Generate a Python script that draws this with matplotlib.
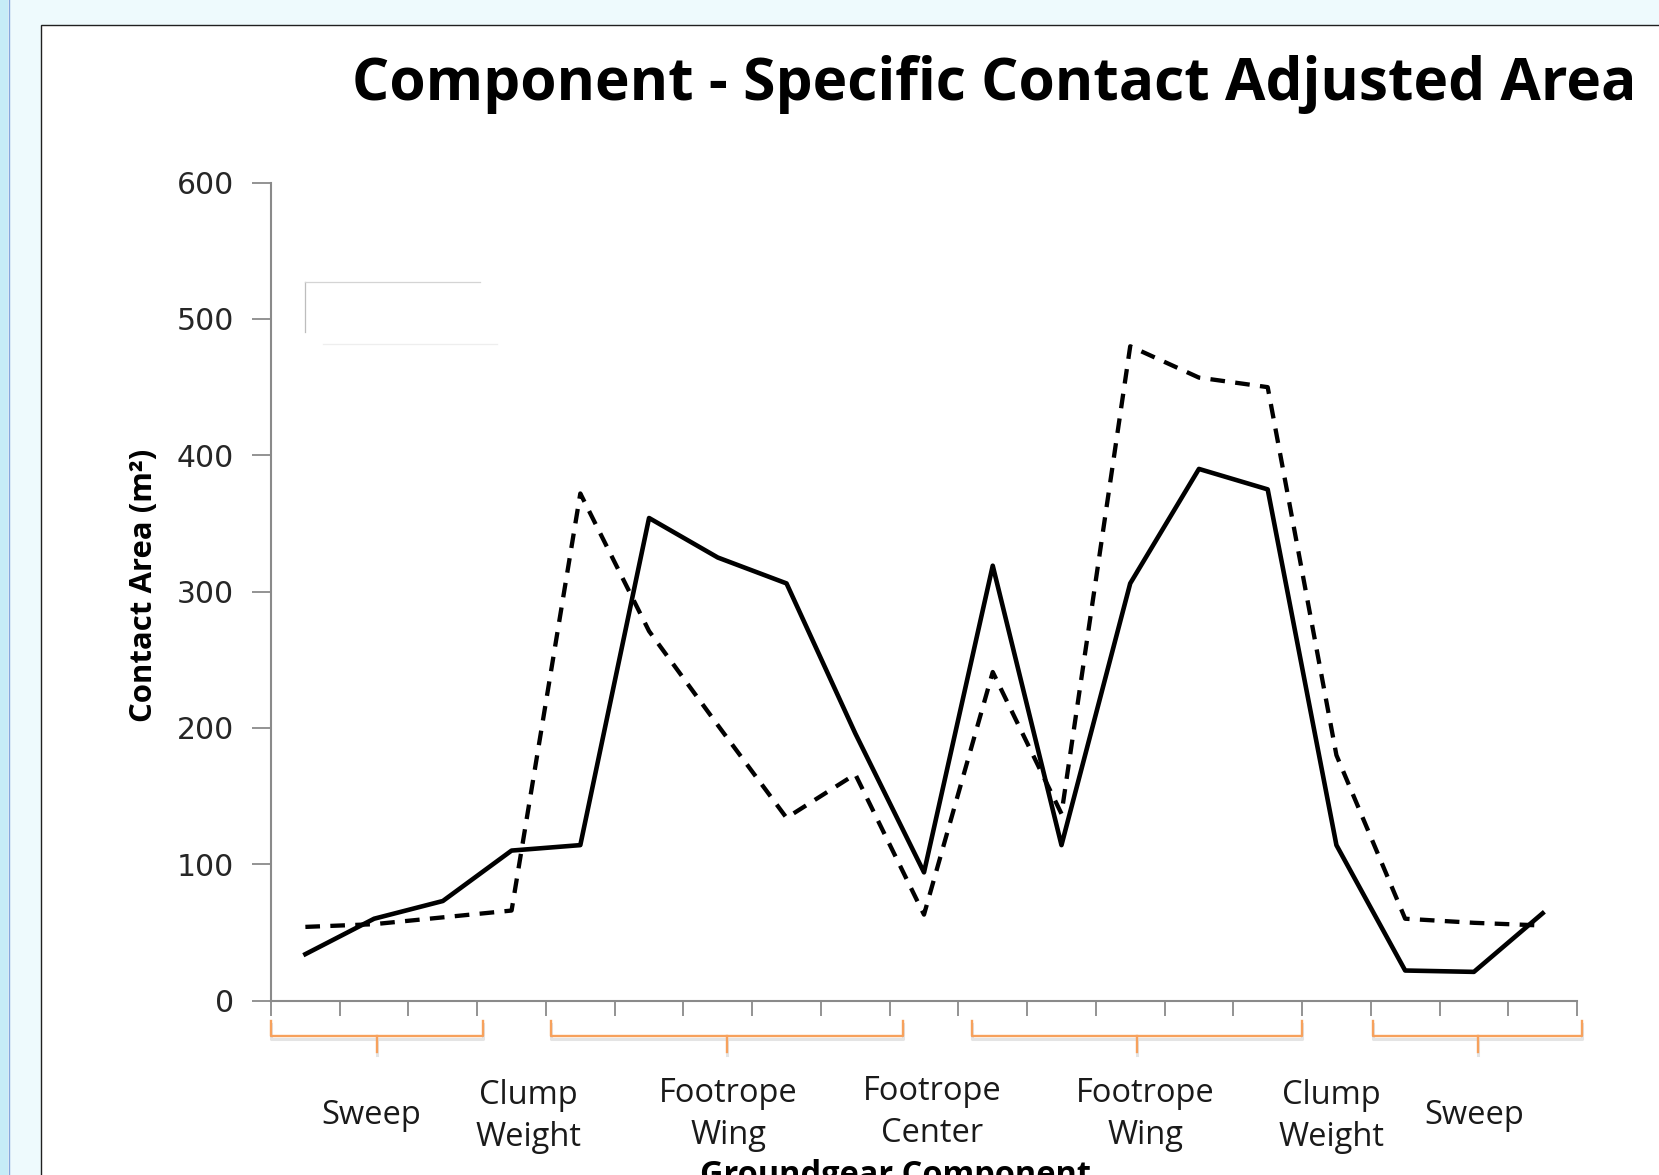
import numpy as np
import matplotlib
matplotlib.use('Agg')
import matplotlib.pyplot as plt
from matplotlib.lines import Line2D
from matplotlib.patches import Rectangle
import matplotlib.transforms as mtransforms

# ---------------- data ----------------
solid_series = [34, 60, 73, 110, 114, 354, 325, 306, 196, 94, 319, 114, 306, 390, 375, 114, 22, 21, 64]
dashed_series = [54, 56, 61, 66, 372, 271, 202, 134, 166, 63, 241, 137, 480, 457, 450, 180, 60, 57, 55]
y_ticks = [0, 100, 200, 300, 400, 500, 600]
group_labels = ['Sweep', 'Clump\nWeight', 'Footrope\nWing', 'Footrope\nCenter',
                'Footrope\nWing', 'Clump\nWeight', 'Sweep']
title_text = 'Component - Specific Contact Adjusted Area'
ylabel_text = 'Contact Area (m\u00b2)'
xlabel_text = 'Groundgear Component'

# ---------------- layout (pixels) ----------------
W, H = 1659, 1175
fig = plt.figure(figsize=(W / 100, H / 100), dpi=100)
fig.patch.set_facecolor('#eefafd')


def fx(x):
    return x / W


def fy(y):
    return 1 - y / H


# screenshot surroundings
fig.add_artist(Rectangle((0, 0), fx(8), 1, transform=fig.transFigure,
                         facecolor='#c6ecf7', edgecolor='none', zorder=-20))
fig.add_artist(Line2D([fx(8.5)] * 2, [0, 1], transform=fig.transFigure,
                      color='#86a7dc', lw=1, zorder=-19))
fig.add_artist(Rectangle((fx(41), -0.02), 1.05 - fx(41), fy(25) + 0.02,
                         transform=fig.transFigure, facecolor='white',
                         edgecolor='#202020', lw=1.0, zorder=-10))

# legend remnant
for (x0, y0, x1, y1, c) in [(305, 281.7, 305, 331.7, '#bdbdbd'),
                            (305, 281.7, 480, 281.7, '#d4d4d4'),
                            (323, 344, 497, 344, '#eeeeee')]:
    fig.add_artist(Line2D([fx(x0), fx(x1)], [fy(y0), fy(y1)],
                          transform=fig.transFigure, color=c, lw=0.9, zorder=-5))

ax_left, ax_right, ax_top, ax_bottom = 271, 1577, 182.7, 1000.5
ax = fig.add_axes([fx(ax_left), fy(ax_bottom), fx(ax_right) - fx(ax_left),
                   fy(ax_top) - fy(ax_bottom)])
ax.set_facecolor('none')

n = len(solid_series)
xs = np.arange(n) + 0.5
ax.plot(xs, solid_series, color='black', lw=3.3, solid_joinstyle='round', zorder=3)
ax.plot(xs, dashed_series, color='black', lw=3.1, linestyle=(0, (3.4, 2.4)), zorder=3)

ax.set_xlim(0, n)
ax.set_ylim(0, 600)
ax.set_yticks(y_ticks)
ax.set_xticks(np.arange(n + 1))
ax.set_xticklabels([])

gray = '#8a8a8a'
for s in ['top', 'right']:
    ax.spines[s].set_visible(False)
for s in ['left', 'bottom']:
    ax.spines[s].set_color(gray)
    ax.spines[s].set_linewidth(1.5)
ax.tick_params(axis='y', length=13.7, width=1.3, color=gray, pad=13.0,
               labelsize=21.5, labelcolor='#262626')
ax.tick_params(axis='x', length=10.8, width=1.3, color=gray, labelbottom=False)
for lab in ax.get_yticklabels():
    lab.set_fontfamily('DejaVu Sans')

# ---------------- brackets ----------------
btrans = mtransforms.blended_transform_factory(ax.transData, fig.transFigure)
bracket_spans = [(0.0, 3.08), (4.08, 9.19), (10.2, 15.0), (16.03, 19.08)]
orange = '#f7a15c'
for (a, b) in bracket_spans:
    mid = (a + b) / 2
    for dy, col, lw, z in [(3, '#e4e4e4', 2.2, 1), (0, orange, 1.7, 2)]:
        ax.add_line(Line2D([a, a, b, b], [fy(1021 + dy), fy(1036 + dy), fy(1036 + dy), fy(1021 + dy)],
                           transform=btrans, color=col, lw=lw, clip_on=False, zorder=z,
                           solid_joinstyle='round'))
        ax.add_line(Line2D([mid, mid], [fy(1036 + dy), fy(1052 + dy)],
                           transform=btrans, color=col, lw=lw, clip_on=False, zorder=z))

# ---------------- category labels ----------------
label_x = [1.46, 3.74, 6.65, 9.62, 12.72, 15.43, 17.5]
label_cy = [1111, 1112, 1110, 1108, 1110, 1112, 1111]
line_gap = 42
for txt, lx, cy in zip(group_labels, label_x, label_cy):
    lines = txt.split('\n')
    k = len(lines)
    for i, ln in enumerate(lines):
        yy = cy + (i - (k - 1) / 2) * line_gap
        ax.text(lx, fy(yy), ln, transform=btrans, ha='center', va='center_baseline',
                fontsize=23.5, family='Open Sans', color='#1a1a1a', clip_on=False)

# ---------------- titles ----------------
fig.canvas.draw()
renderer = fig.canvas.get_renderer()


def fit(t, target, vertical=False):
    bb = t.get_window_extent(renderer)
    w = bb.height if vertical else bb.width
    t.set_fontsize(t.get_fontsize() * target / w)


title = fig.text(fx(352), fy(100), title_text, ha='left', va='baseline',
                 fontsize=36, fontweight='bold', family='Open Sans', color='black')
fit(title, 1286)

ylab = fig.text(fx(144), fy(585), ylabel_text, rotation=90, ha='center', va='center',
                fontsize=20, fontweight='bold', family='Open Sans', color='black')
fit(ylab, 273, vertical=True)

xlab = fig.text(fx(896), fy(1161), xlabel_text, ha='center', va='baseline',
                fontsize=20, fontweight='bold', family='Open Sans', color='black')
fit(xlab, 391)
cap = xlab.get_fontsize() * 100 / 72 * 0.714
xlab.set_position((fx(896), fy(1161 + cap)))

fig.savefig('out.png', dpi=100, facecolor=fig.get_facecolor())
